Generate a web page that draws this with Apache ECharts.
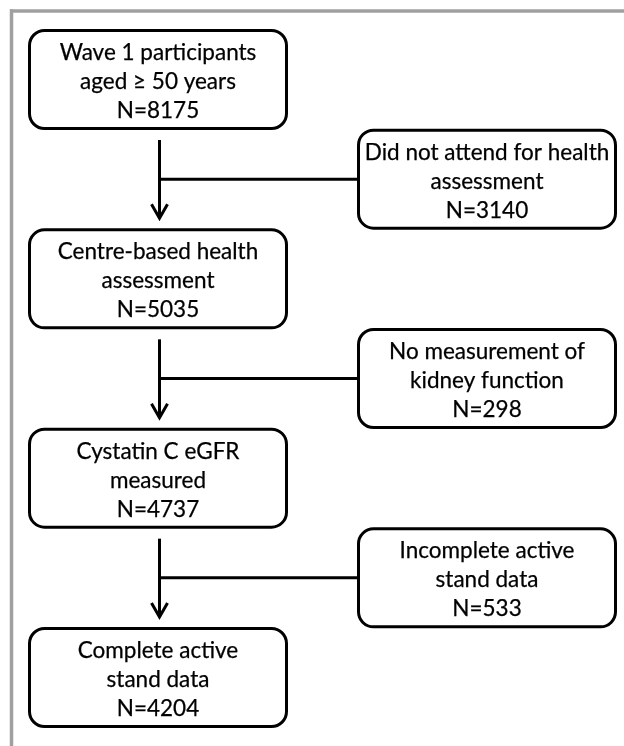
<!DOCTYPE html>
<html><head><meta charset="utf-8">
<script src="https://cdn.jsdelivr.net/npm/echarts@6/dist/echarts.min.js"></script>
<style>html,body{margin:0;padding:0;background:#fff}#c{width:624px;height:746px}</style>
</head><body><div id="c"></div>
<script>
// ---- data ----
const mainLabels = ['Wave 1 participants\naged \u2265 50 years', 'Centre-based health\nassessment', 'Cystatin C eGFR\nmeasured', 'Complete active\nstand data'];
const mainN = [8175, 5035, 4737, 4204];
const excludedLabels = ['Did not attend for health\nassessment', 'No measurement of\nkidney function', 'Incomplete active\nstand data'];
const excludedN = [3140, 298, 533];

// ---- style ----
const BOX_W = 257, BOX_H = 98, LW = 3, R = 15;
const FONT_FAMILY = 'Lato, "Noto Sans", sans-serif';
const FS = 22.5, LH = 29, TY = 2.2;
const GAP = 10, ARROW_DX = 1.5, HEAD_W = 8, HEAD_H = 14;

const chart = echarts.init(document.getElementById('c'), null, { renderer: 'canvas' });

function boxItem(params, api) {
  const col = api.value(0), step = api.value(1), idx = api.value(2);
  const c = api.coord([col, step]);
  const isMain = col === 0;
  const txt = (isMain ? mainLabels[idx] : excludedLabels[idx]) + '\nN=' + (isMain ? mainN[idx] : excludedN[idx]);
  return {
    type: 'group',
    children: [
      { type: 'rect', shape: { x: c[0] - BOX_W / 2, y: c[1] - BOX_H / 2, width: BOX_W, height: BOX_H, r: R },
        style: { fill: '#fff', stroke: '#000', lineWidth: LW } },
      { type: 'text', x: c[0], y: c[1] + TY,
        style: { text: txt, fontFamily: FONT_FAMILY, fontSize: FS, lineHeight: LH, align: 'center', verticalAlign: 'middle', fill: '#000', stroke: '#000', lineWidth: 0.25 } }
    ]
  };
}

function arrowItem(params, api) {
  const i = api.value(1);
  const a = api.coord([0, i]), b = api.coord([0, i + 1]), s = api.coord([1, i + 0.5]);
  const x = a[0] + ARROW_DX;
  const y0 = a[1] + BOX_H / 2 + LW / 2 + GAP;
  const tip = b[1] - BOX_H / 2 - LW / 2 - GAP;
  const st = { stroke: '#000', lineWidth: LW, fill: null };
  return {
    type: 'group',
    children: [
      { type: 'line', shape: { x1: x, y1: y0, x2: x, y2: tip - 2 }, style: st },
      { type: 'line', shape: { x1: x, y1: s[1], x2: s[0] - BOX_W / 2, y2: s[1] }, style: st },
      { type: 'polyline', shape: { points: [[x - HEAD_W, tip - HEAD_H], [x, tip], [x + HEAD_W, tip - HEAD_H]] },
        style: Object.assign({ lineJoin: 'miter' }, st) }
    ]
  };
}

const mainData = mainN.map((n, i) => [0, i, i]);
const exclData = excludedN.map((n, i) => [1, i + 0.5, i]);
const arrowData = excludedN.map((n, i) => [0, i]);

chart.setOption({
  animation: false,
  backgroundColor: '#fff',
  grid: { left: 158, right: 137, top: 79.5, bottom: 68.5 },
  xAxis: { type: 'value', min: 0, max: 1, show: false },
  yAxis: { type: 'value', min: 0, max: 3, inverse: true, show: false },
  graphic: [
    { type: 'line', shape: { x1: 10, y1: 11, x2: 624, y2: 11 }, style: { stroke: '#a0a0a0', lineWidth: 3.5 }, z: 100 },
    { type: 'line', shape: { x1: 11.5, y1: 9.25, x2: 11.5, y2: 746 }, style: { stroke: '#a0a0a0', lineWidth: 3.5 }, z: 100 }
  ],
  series: [
    { type: 'custom', renderItem: arrowItem, data: arrowData, silent: true, z: 1 },
    { type: 'custom', renderItem: boxItem, data: mainData, silent: true, z: 2 },
    { type: 'custom', renderItem: boxItem, data: exclData, silent: true, z: 2 }
  ]
});
</script></body></html>
